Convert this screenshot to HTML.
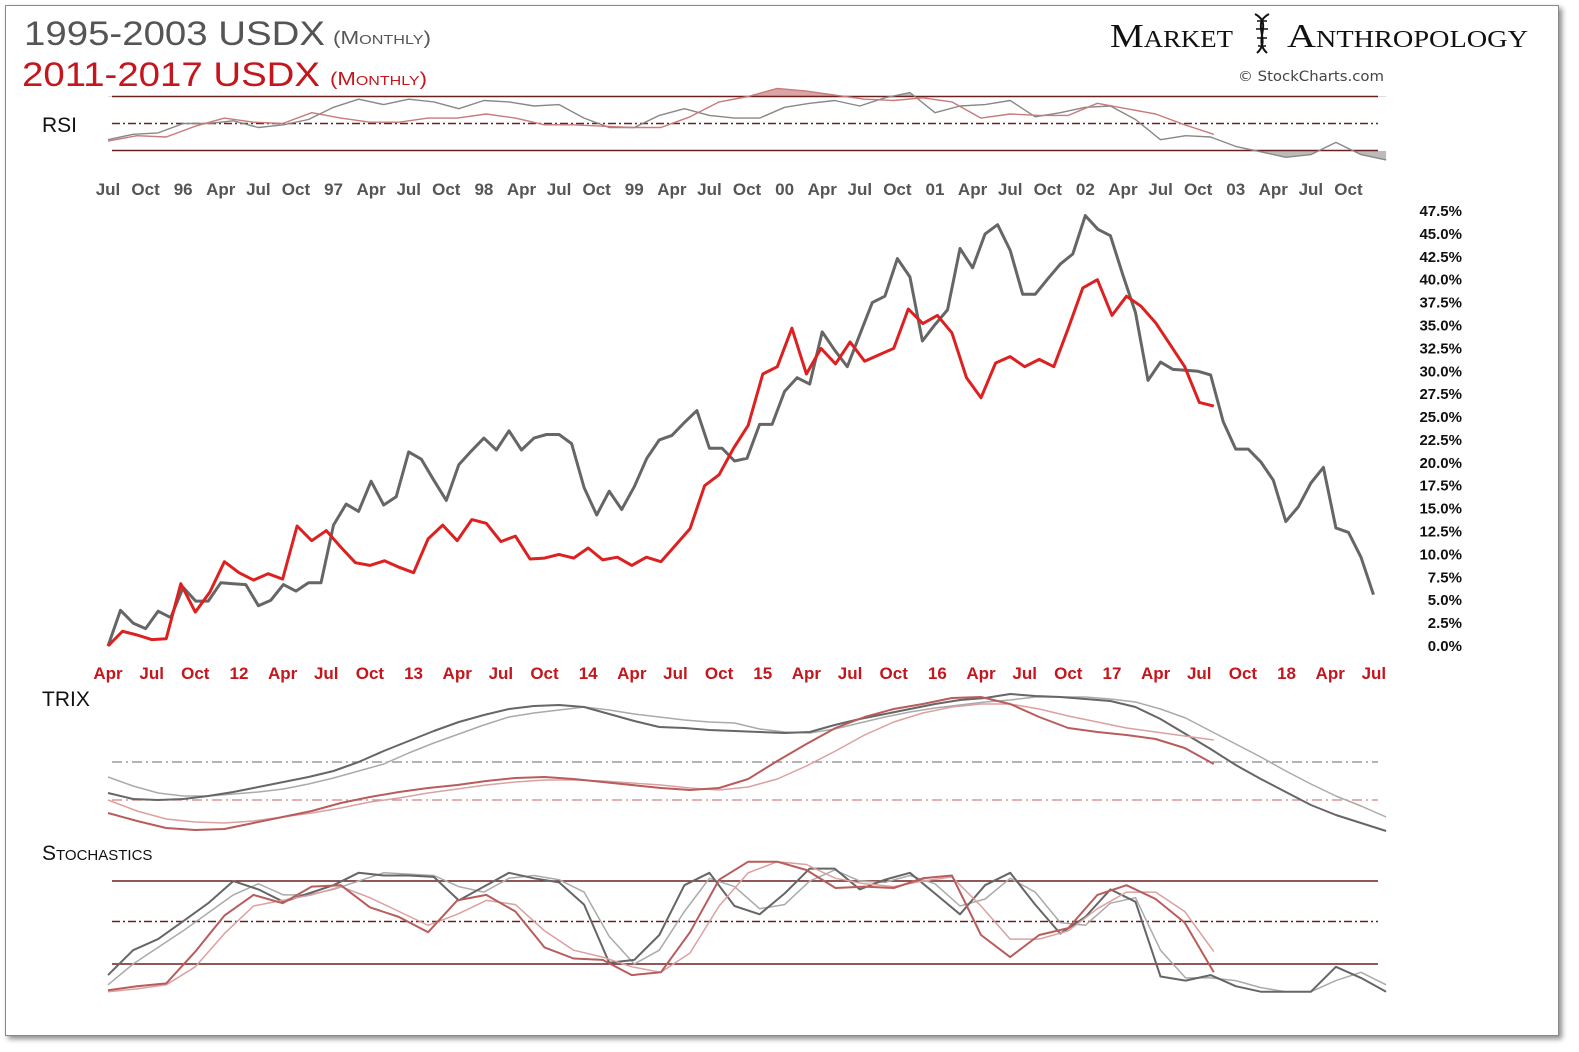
<!DOCTYPE html>
<html><head><meta charset="utf-8"><style>
html,body{margin:0;padding:0;background:#fff;}
body{width:1579px;height:1052px;position:relative;overflow:hidden;font-family:"Liberation Sans",sans-serif;}
#frame{position:absolute;left:5px;top:5px;width:1552px;height:1029px;border:1px solid #888;box-shadow:3px 3px 5px rgba(0,0,0,0.45);background:#fff;}
svg{position:absolute;left:0;top:0;}
</style></head><body>
<div id="frame"></div>
<svg id="chart" width="1579" height="1052">
 <g>
  <text x="24" y="45" font-family="Liberation Sans, sans-serif" font-size="34" fill="#555" textLength="301" lengthAdjust="spacingAndGlyphs">1995-2003 USDX</text>
  <text x="333" y="44" font-family="Liberation Sans, sans-serif" font-size="18" fill="#555" font-variant="small-caps" textLength="98" lengthAdjust="spacingAndGlyphs">(Monthly)</text>
  <text x="22" y="86" font-family="Liberation Sans, sans-serif" font-size="34" fill="#c4161c" textLength="298" lengthAdjust="spacingAndGlyphs">2011-2017  USDX</text>
  <text x="330" y="85" font-family="Liberation Sans, sans-serif" font-size="18" fill="#c4161c" font-variant="small-caps" textLength="97" lengthAdjust="spacingAndGlyphs">(Monthly)</text>
 </g>
 <g>
  <text x="1110" y="47" font-family="Liberation Serif, serif" font-size="34" fill="#111" font-variant="small-caps" textLength="123" lengthAdjust="spacingAndGlyphs">Market</text>
  <g stroke="#111" stroke-width="2" fill="none">
   <path d="M1255 14 C1274 24,1252 40,1267 53"/><path d="M1269 14 C1250 24,1272 40,1257 53"/>
   <line x1="1257" y1="21" x2="1267" y2="21" stroke-width="1.5"/><line x1="1256" y1="29" x2="1268" y2="29" stroke-width="1.5"/><line x1="1257" y1="38" x2="1267" y2="38" stroke-width="1.5"/><line x1="1258" y1="46" x2="1266" y2="46" stroke-width="1.5"/>
  </g>
  <text x="1287" y="47" font-family="Liberation Serif, serif" font-size="34" fill="#111" font-variant="small-caps" textLength="241" lengthAdjust="spacingAndGlyphs">Anthropology</text>
  <text x="1238" y="81" font-family="DejaVu Sans, sans-serif" font-size="14" fill="#444" textLength="146" lengthAdjust="spacingAndGlyphs">© StockCharts.com</text>
 </g>
 <text x="42" y="132" font-size="21" fill="#111">RSI</text>
 <text x="42" y="706" font-size="21" fill="#111">TRIX</text>
 <text x="42" y="860" font-size="21" fill="#111" font-variant="small-caps">Stochastics</text>
 <defs>
  <clipPath id="clipAbove"><rect x="0" y="0" width="1579" height="97"/></clipPath>
  <clipPath id="clipBelow"><rect x="0" y="151" width="1579" height="60"/></clipPath>
 </defs>
 <g id="g-rsi"></g>
 <g id="g-axes"></g>
 <g id="g-main"></g>
 <g id="g-trix"></g>
 <g id="g-stoch"></g>
</svg>
<script>
// ---- main series (% change from start), monthly ----
const grayValues=[0,3.9,2.5,1.9,3.8,3.1,6.4,4.9,4.9,6.9,6.8,6.7,4.4,5.0,6.7,6.0,6.9,6.9,13.2,15.5,14.7,18.0,15.4,16.3,21.2,20.4,18.1,15.9,19.8,21.3,22.7,21.4,23.5,21.4,22.7,23.1,23.1,22.1,17.3,14.3,16.9,14.9,17.4,20.5,22.5,23.0,24.4,25.7,21.6,21.6,20.2,20.5,24.2,24.2,27.8,29.3,28.6,34.3,32.3,30.5,34.0,37.5,38.2,42.3,40.3,33.3,35.1,36.7,43.4,41.3,45.0,46.0,43.2,38.4,38.4,40.1,41.7,42.8,47.0,45.5,44.8,40.5,36.4,29.0,31.0,30.2,30.1,30.0,29.6,24.5,21.5,21.5,20.1,18.1,13.6,15.2,17.8,19.5,12.9,12.4,9.7,5.6];
const redValues=[0,1.6,1.2,0.7,0.8,6.8,3.7,5.9,9.2,8.0,7.2,7.9,7.3,13.1,11.5,12.6,10.8,9.1,8.8,9.3,8.6,8.0,11.7,13.2,11.5,13.8,13.4,11.4,12.0,9.5,9.6,10.0,9.6,10.7,9.4,9.7,8.8,9.7,9.2,11.0,12.8,17.5,18.7,21.6,24.1,29.7,30.5,34.7,29.7,32.5,30.8,33.2,31.1,31.8,32.5,36.8,35.2,36.1,34.2,29.3,27.1,30.9,31.6,30.5,31.3,30.5,34.7,39.1,40.0,36.1,38.2,37.1,35.3,32.9,30.5,26.6,26.2];
const yTicks=[0,2.5,5,7.5,10,12.5,15,17.5,20,22.5,25,27.5,30,32.5,35,37.5,40,42.5,45,47.5];
const grayAxisLabels=["Jul","Oct","96","Apr","Jul","Oct","97","Apr","Jul","Oct","98","Apr","Jul","Oct","99","Apr","Jul","Oct","00","Apr","Jul","Oct","01","Apr","Jul","Oct","02","Apr","Jul","Oct","03","Apr","Jul","Oct"];
const redAxisLabels=["Apr","Jul","Oct","12","Apr","Jul","Oct","13","Apr","Jul","Oct","14","Apr","Jul","Oct","15","Apr","Jul","Oct","16","Apr","Jul","Oct","17","Apr","Jul","Oct","18","Apr","Jul"];
// ---- indicators, sampled every 2 months ----
const grayRsi=[38,42,43,50,50,52,47,49,53,62,68,64,68,66,61,67,66,63,64,54,47,47,56,61,56,54,54,62,65,67,63,69,73,58,63,64,67,55,58,62,63,53,38,41,40,33,29,25,27,36,27,23];
const redRsi=[37,41,40,48,54,51,50,58,54,51,51,54,54,57,54,49,49,48,47,47,55,66,70,76,74,71,68,67,69,66,54,57,56,56,65,61,57,49,42];
const grayTrix=[47,41,40,41,44,48,53,58,63,69,78,89,99,109,118,125,131,134,135,133,126,119,113,112,110,109,108,107,108,115,121,126,131,136,140,142,146,144,143,141,139,133,121,106,91,75,61,48,35,25,17,9];
const grayTrixSignal=[63,54,47,44,44,46,48,51,56,62,69,76,87,97,106,115,123,127,130,133,130,126,123,120,118,117,111,108,107,111,117,123,128,132,135,138,140,143,143,143,141,138,131,122,109,96,83,69,56,44,34,23];
const redTrix=[27,19,12,10,11,17,23,29,37,43,48,52,55,59,62,63,61,58,55,52,50,52,61,79,96,112,123,131,136,142,143,136,123,112,108,105,101,92,76];
const redTrixSignal=[40,29,21,18,17,19,23,27,32,38,42,47,51,55,58,60,60,59,57,55,52,50,53,61,74,89,105,118,127,133,136,136,131,124,118,112,108,104,100];
const grayStochK=[12,30,38,51,64,80,74,65,71,77,86,84,84,83,66,76,86,82,79,63,21,23,41,77,86,62,56,71,89,89,74,81,86,71,56,77,86,63,42,54,74,65,11,8,12,4,0,0,0,18,10,0];
const grayStochD=[5,20,32,44,57,70,78,70,70,74,80,86,85,84,76,72,82,84,81,72,40,20,30,58,82,76,60,63,80,88,80,79,84,78,62,67,82,72,50,48,64,68,30,10,10,8,3,0,0,8,14,5];
const redStochK=[1,4,6,29,55,70,64,76,77,61,54,43,66,70,58,32,24,23,12,14,43,81,94,94,88,75,76,75,82,84,41,25,41,46,70,77,67,50,14];
const redStochD=[0,2,5,18,42,62,66,70,76,68,58,48,56,66,63,44,30,25,18,14,28,62,86,94,92,82,78,76,80,83,62,38,38,44,60,72,72,58,29];

const NS="http://www.w3.org/2000/svg";
const xGray=m=>108+m*12.53;
const xRed=m=>108+m*14.55;
const yMain=v=>646-v*9.158;
const yRsi=v=>123.5-(v-50)*1.35;
const yTrix=v=>840-v;
const yStoch=v=>991.7-v*1.383;
const left=112, right=1378;

function mk(tag,attrs,parent){const e=document.createElementNS(NS,tag);for(const k in attrs)e.setAttribute(k,attrs[k]);parent.appendChild(e);return e;}
function pts(arr,xf,yf,step){return arr.map((v,i)=>xf(i*step).toFixed(1)+","+yf(v).toFixed(1)).join(" ");}

const gm=document.getElementById('g-main');
let l1=mk('polyline',{points:pts(grayValues,xGray,yMain,1),fill:'none',stroke:'#666',"stroke-width":3,"stroke-linejoin":"round"},gm);


let l2=mk('polyline',{points:pts(redValues,xRed,yMain,1),fill:'none',stroke:'#dd2020',"stroke-width":3,"stroke-linejoin":"round"},gm);



const ga=document.getElementById('g-axes');
yTicks.forEach(v=>{const t=mk('text',{x:1462,y:yMain(v)+5,"text-anchor":"end","font-size":15,"font-weight":"bold",fill:"#111"},ga);t.textContent=v.toFixed(1)+"%";
 
 });
grayAxisLabels.forEach((s,i)=>{const t=mk('text',{x:xGray(i*3),y:195,"text-anchor":"middle","font-size":17,"font-weight":"bold",fill:"#555"},ga);t.textContent=s;
 
 });
redAxisLabels.forEach((s,i)=>{const t=mk('text',{x:xRed(i*3),y:679,"text-anchor":"middle","font-size":17,"font-weight":"bold",fill:"#c4161c"},ga);t.textContent=s;
 
 });

function hline(g,y,stroke,dash,w,name){const l=mk('line',{x1:left,x2:right,y1:y,y2:y,stroke:stroke,"stroke-width":w},g);if(dash)l.setAttribute('stroke-dasharray',dash);
 
 }
function iline(g,arr,xf,yf,stroke,w,name){const p=mk('polyline',{points:pts(arr,xf,yf,2),fill:'none',stroke:stroke,"stroke-width":w,"stroke-linejoin":"round"},g);
 
 }

const gr=document.getElementById('g-rsi');
function area(arr,xf,col,clip,level,name){const n=arr.length;const p=pts(arr,xf,yRsi,2)+" "+xf((n-1)*2).toFixed(1)+","+yRsi(level)+" "+xf(0)+","+yRsi(level);
 const e=mk('polygon',{points:p,fill:col,"clip-path":"url(#"+clip+")"},gr);
 
 }
area(redRsi,xRed,'#d9a5a5','clipAbove',70,'rsi-red-overbought-fill');
area(grayRsi,xGray,'#bbbbbb','clipAbove',70,'rsi-gray-overbought-fill');
area(grayRsi,xGray,'#bbbbbb','clipBelow',30,'rsi-gray-oversold-fill');
hline(gr,yRsi(70),'#6b2020',null,1.5,'rsi-70-line');
hline(gr,yRsi(50),'#6b2020','8,3,2,3',1.5,'rsi-50-line');
hline(gr,yRsi(30),'#6b2020',null,1.5,'rsi-30-line');
iline(gr,grayRsi,xGray,yRsi,'#888',1.4,'rsi-gray-line');
iline(gr,redRsi,xRed,yRsi,'#c97a7a',1.4,'rsi-red-line');

const gt=document.getElementById('g-trix');
hline(gt,762,'#888','10,4,2,4',1.3,'trix-gray-zero-line');
hline(gt,800,'#d08080','10,4,2,4',1.3,'trix-red-zero-line');
iline(gt,grayTrixSignal,xGray,yTrix,'#aaa',1.5,'trix-gray-signal');
iline(gt,grayTrix,xGray,yTrix,'#666',2,'trix-gray-line');
iline(gt,redTrixSignal,xRed,yTrix,'#dca0a0',1.5,'trix-red-signal');
iline(gt,redTrix,xRed,yTrix,'#b85c5c',2,'trix-red-line');

const gs=document.getElementById('g-stoch');
hline(gs,881,'#6b2020',null,1.5,'stoch-80-line');
hline(gs,921.5,'#6b2020','8,3,2,3',1.5,'stoch-50-line');
hline(gs,964,'#6b2020',null,1.5,'stoch-20-line');
iline(gs,grayStochD,xGray,yStoch,'#aaa',1.5,'stoch-gray-d');
iline(gs,grayStochK,xGray,yStoch,'#666',2,'stoch-gray-k');
iline(gs,redStochD,xRed,yStoch,'#dca0a0',1.5,'stoch-red-d');
iline(gs,redStochK,xRed,yStoch,'#b85c5c',2,'stoch-red-k');
</script>
</body></html>
